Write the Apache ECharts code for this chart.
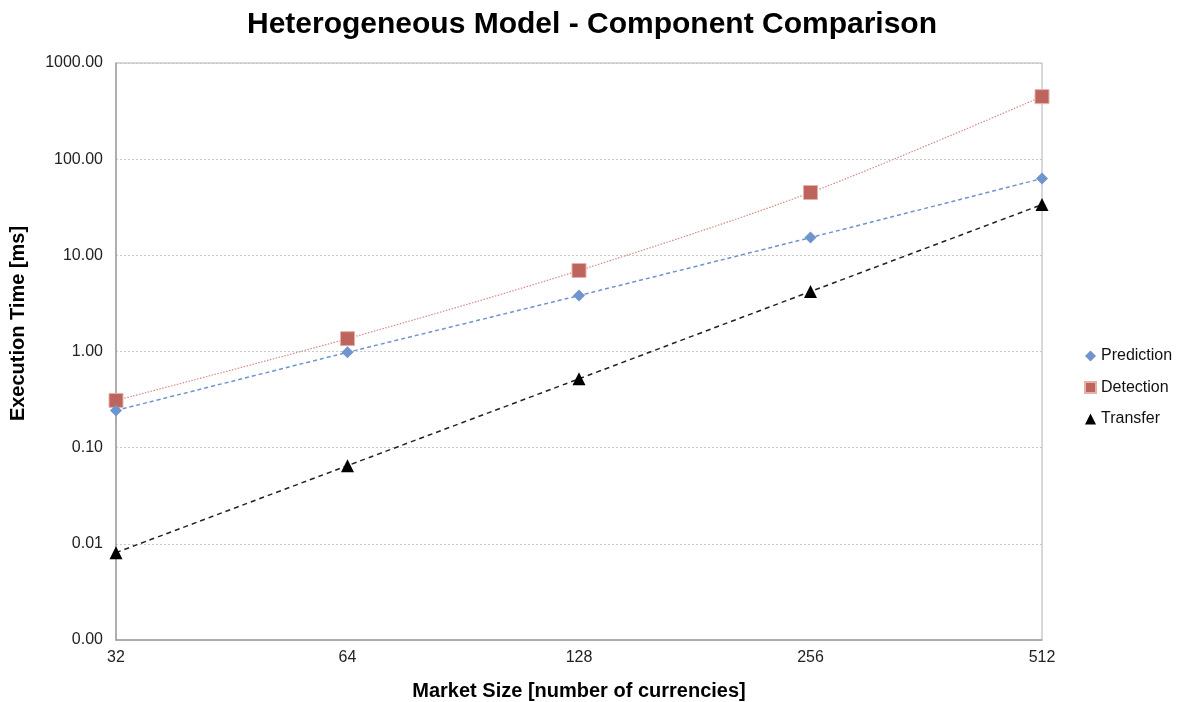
<!DOCTYPE html>
<html>
<head>
<meta charset="utf-8">
<script src="https://cdn.jsdelivr.net/npm/echarts@6/dist/echarts.min.js"></script>
<style>
  html, body { margin: 0; padding: 0; background: #fff; }
  #chart { width: 1184px; height: 702px; }
</style>
</head>
<body>
<div id="chart"></div>
<script>
// Market sizes (number of currencies) on the x axis
const marketSizes = [32, 64, 128, 256, 512];
// Execution times in milliseconds per component
const prediction = [0.244, 0.98, 3.82, 15.3, 62.9];
const detection  = [0.31, 1.36, 6.95, 45.0, 447];
const transfer   = [0.0081, 0.065, 0.52, 4.2, 33.7];

const seriesNames = ['Prediction', 'Detection', 'Transfer'];

function pairs(values) {
  return marketSizes.map((x, i) => [x, values[i]]);
}

const chart = echarts.init(document.getElementById('chart'), null, { renderer: 'canvas' });

const font = 'Liberation Sans, Arial, Helvetica, sans-serif';

chart.setOption({
  animation: false,
  backgroundColor: '#ffffff',
  title: {
    text: 'Heterogeneous Model - Component Comparison',
    left: 'center',
    top: 5,
    textStyle: { fontFamily: font, fontSize: 30, fontWeight: 'bold', color: '#000' }
  },
  legend: {
    orient: 'vertical',
    left: 1079,
    top: 343,
    itemWidth: 11,
    itemHeight: 11,
    itemGap: 15.5,
    textStyle: { fontFamily: font, fontSize: 16, color: '#111' },
    data: [
      { name: seriesNames[0], icon: 'diamond' },
      { name: seriesNames[1], icon: 'rect' },
      { name: seriesNames[2], icon: 'triangle' }
    ]
  },
  grid: {
    left: 116, right: 142, top: 63, bottom: 62,
    outerBoundsMode: 'none',
    show: true,
    borderColor: '#b0b0b0',
    borderWidth: 1
  },
  xAxis: {
    type: 'log',
    logBase: 2,
    min: 32,
    max: 512,
    splitNumber: 4,
    name: 'Market Size [number of currencies]',
    nameLocation: 'middle',
    nameGap: 41,
    nameTextStyle: { fontFamily: font, fontSize: 20, fontWeight: 'bold', color: '#000' },
    axisLine: { lineStyle: { color: '#a0a0a0', width: 1.5 } },
    axisTick: { show: false },
    splitLine: { show: false },
    axisLabel: {
      fontFamily: font, fontSize: 16, color: '#222', margin: 10,
      formatter: v => String(Math.round(v))
    }
  },
  yAxis: {
    type: 'log',
    logBase: 10,
    min: 0.001,
    max: 1000,
    name: 'Execution Time [ms]',
    nameLocation: 'middle',
    nameGap: 88,
    nameTextStyle: {
      fontFamily: font, fontSize: 20, fontWeight: 'bold', color: '#000',
      padding: [0, 0, 0, 56]
    },
    axisLine: { show: true, lineStyle: { color: '#a0a0a0', width: 1.5 } },
    axisTick: { show: false },
    splitLine: { show: true, lineStyle: { color: '#c8c8c8', type: [2, 2], width: 1 } },
    axisLabel: {
      fontFamily: font, fontSize: 16, color: '#222', margin: 13,
      formatter: v => Number(v).toFixed(2)
    }
  },
  series: [
    {
      name: seriesNames[0],
      type: 'line',
      data: pairs(prediction),
      smooth: 0.2,
      symbol: 'diamond',
      symbolSize: 12,
      z: 3,
      itemStyle: { color: '#7094cd' },
      lineStyle: { color: '#7094cd', width: 1.5, type: [4, 3] }
    },
    {
      name: seriesNames[1],
      type: 'line',
      data: pairs(detection),
      smooth: 0.3,
      symbol: 'rect',
      symbolSize: 14,
      z: 2,
      itemStyle: { color: '#bd645d', borderColor: '#e8b0ac', borderWidth: 1 },
      lineStyle: { color: '#d48a85', width: 1.2, type: [1.5, 1.5] }
    },
    {
      name: seriesNames[2],
      type: 'line',
      data: pairs(transfer),
      smooth: 0.2,
      symbol: 'triangle',
      symbolSize: 13,
      z: 4,
      itemStyle: { color: '#000000' },
      lineStyle: { color: '#222222', width: 1.5, type: [5, 4] }
    }
  ]
});
</script>
</body>
</html>
